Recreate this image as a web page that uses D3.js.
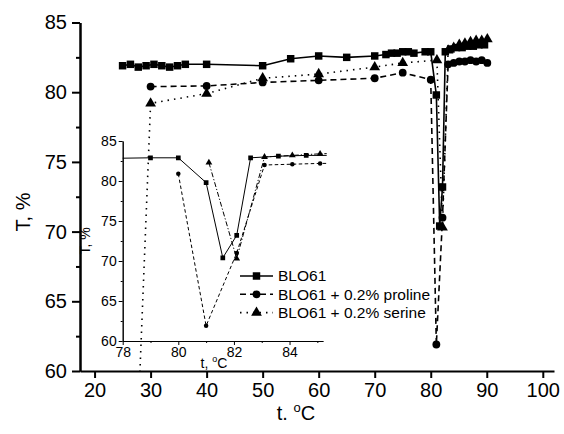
<!DOCTYPE html>
<html><head><meta charset="utf-8">
<script src="https://cdn.jsdelivr.net/npm/d3@7"></script>
<style>body{margin:0;background:#fff}svg{display:block}text{font-family:"Liberation Sans",Arial,sans-serif;fill:#000}</style>
</head><body>
<script>
// ---- data ----
const bloT = [25,26.4,27.8,29.2,30.6,32,33.4,34.8,36.2,40,50,55,60,65,70,72,73,74,75,76,77,79,80,81,81.6,82.1,82.6,83.6,84.6,85.6,86.6,87.6,88.6,89.6];
const bloV = [81.9,82.0,81.8,81.9,82.0,81.9,81.8,81.9,82.0,82.0,81.9,82.4,82.6,82.5,82.6,82.7,82.8,82.8,82.9,82.9,82.8,82.9,82.9,79.8,70.4,73.2,82.9,83.1,83.2,83.2,83.3,83.3,83.4,83.4];
const proT = [30,40,50,60,70,75,80,81,82.1,83.1,84.1,85.1,86.1,87.1,88.1,89.1,90.1];
const proV = [80.4,80.45,80.7,80.85,81.0,81.4,80.9,61.9,71.0,82.0,82.1,82.2,82.2,82.3,82.2,82.3,82.1];
const serT = [28,30,40,50,60,70,75,81.1,82.1,83.1,84.1,85.1,86.1,87.1,88.1,89.1,90.1];
const serV = [59,79.2,79.9,81.0,81.3,81.8,82.1,82.3,70.3,83.0,83.2,83.4,83.5,83.6,83.7,83.7,83.8];
const seriesNames = ["BLO61","BLO61 + 0.2% proline","BLO61 + 0.2% serine"];
const mainXTicks = [20,30,40,50,60,70,80,90,100];
const mainYTicks = [60,65,70,75,80,85];
const mainYMinor = [62.5,67.5,72.5,77.5,82.5];
const insetXTicks = [78,80,82,84];
const insetXMinor = [79,81,83,85];
const insetYTicks = [60,65,70,75,80,85];
const insetYMinor = [62.5,67.5,72.5,77.5,82.5];

const W=564,H=434;
const svg=d3.select("body").append("svg").attr("width",W).attr("height",H);

const series=[
 {name:seriesNames[0],t:bloT,v:bloV,sym:d3.symbolSquare,dash:null,idash:null,sz:56,isz:22},
 {name:seriesNames[1],t:proT,v:proV,sym:d3.symbolCircle,dash:"6,4",idash:"3.5,2.5",sz:48,isz:16},
 {name:seriesNames[2],t:serT,v:serV,sym:d3.symbolTriangle,dash:"1.5,5",idash:"5,2,1.2,2",sz:50,isz:20}
];

// ---- main ----
const x=d3.scaleLinear().domain([17.4,102]).range([80,554]);
const y=d3.scaleLinear().domain([60,85]).range([371,22.5]);

svg.append("clipPath").attr("id","mc").append("rect").attr("x",80).attr("y",18).attr("width",480).attr("height",353);
const mg=svg.append("g").attr("clip-path","url(#mc)");
series.forEach(s=>{
  const pts=s.t.map((t,i)=>[t,s.v[i]]);
  mg.append("path").datum(pts).attr("fill","none").attr("stroke","#000").attr("stroke-width",1.6)
    .attr("stroke-dasharray",s.dash).attr("d",d3.line().x(d=>x(d[0])).y(d=>y(d[1])));
  mg.selectAll(null).data(pts).enter().append("path")
    .attr("d",d3.symbol().type(s.sym).size(s.sz))
    .attr("transform",d=>`translate(${x(d[0])},${y(d[1])})`).attr("fill","#000");
});

function styleAxis(g,fs,sw){
  g.selectAll("text").attr("font-size",fs).attr("font-family","Liberation Sans, Arial, sans-serif").attr("fill","#000");
  g.select(".domain").attr("stroke-width",sw).attr("stroke","#000");
  g.selectAll(".tick line").attr("stroke-width",sw).attr("stroke","#000");
}
const gx=svg.append("g").attr("transform","translate(0,371)")
  .call(d3.axisBottom(x).tickValues(mainXTicks).tickSize(7).tickSizeOuter(0).tickPadding(5));
styleAxis(gx,20,2);
const gy=svg.append("g").attr("transform","translate(80,0)")
  .call(d3.axisLeft(y).tickValues(mainYTicks).tickSize(8).tickSizeOuter(0).tickPadding(5));
styleAxis(gy,20,2);
const gym=svg.append("g").attr("transform","translate(80,0)")
  .call(d3.axisLeft(y).tickValues(mainYMinor).tickSize(4).tickSizeOuter(0).tickFormat(""));
styleAxis(gym,20,2);

svg.append("text").attr("transform","translate(30,212) rotate(-90)").attr("text-anchor","middle")
  .attr("font-size",20).text("T, %");
const xt=svg.append("text").attr("x",296).attr("y",420).attr("text-anchor","middle").attr("font-size",20);
xt.append("tspan").text("t. ");
xt.append("tspan").attr("font-size",13).attr("dy",-8).text("o");
xt.append("tspan").attr("dy",8).text("C");

// ---- inset ----
const ix=d3.scaleLinear().domain([78,85.2]).range([122.7,322.9]);
const iy=d3.scaleLinear().domain([60,85]).range([341,141]);
svg.append("clipPath").attr("id","ic").append("rect").attr("x",122.7).attr("y",136).attr("width",204).attr("height",205);
const ig=svg.append("g").attr("clip-path","url(#ic)");
series.forEach(s=>{
  const pts=s.t.map((t,i)=>[t,s.v[i]]).filter(d=>d[0]>=76&&d[0]<=87);
  ig.append("path").datum(pts).attr("fill","none").attr("stroke","#000").attr("stroke-width",1)
    .attr("stroke-dasharray",s.idash).attr("d",d3.line().x(d=>ix(d[0])).y(d=>iy(d[1])));
  ig.selectAll(null).data(pts).enter().append("path")
    .attr("d",d3.symbol().type(s.sym).size(s.isz))
    .attr("transform",d=>`translate(${ix(d[0])},${iy(d[1])})`).attr("fill","#000");
});
const igx=svg.append("g").attr("transform","translate(0,341)")
  .call(d3.axisBottom(ix).tickValues(insetXTicks).tickSize(4).tickSizeOuter(0).tickPadding(2));
styleAxis(igx,14,1);
const igxm=svg.append("g").attr("transform","translate(0,341)")
  .call(d3.axisBottom(ix).tickValues(insetXMinor).tickSize(2).tickSizeOuter(0).tickFormat(""));
styleAxis(igxm,14,1);
const igy=svg.append("g").attr("transform","translate(122.7,0)")
  .call(d3.axisLeft(iy).tickValues(insetYTicks).tickSize(4).tickSizeOuter(0).tickPadding(2));
styleAxis(igy,14,1);
const igym=svg.append("g").attr("transform","translate(122.7,0)")
  .call(d3.axisLeft(iy).tickValues(insetYMinor).tickSize(2).tickSizeOuter(0).tickFormat(""));
styleAxis(igym,14,1);
svg.append("text").attr("transform","translate(90,241) rotate(-90)").attr("text-anchor","middle")
  .attr("font-size",14).text("T, %");
const ixt=svg.append("text").attr("x",214).attr("y",368).attr("text-anchor","middle").attr("font-size",14);
ixt.append("tspan").text("t, ");
ixt.append("tspan").attr("font-size",9).attr("dy",-6).text("o");
ixt.append("tspan").attr("dy",6).text("C");

// ---- legend ----
const lg=svg.append("g");
series.forEach((s,i)=>{
  const yy=276+i*18.3;
  lg.append("line").attr("x1",240).attr("x2",273).attr("y1",yy).attr("y2",yy)
    .attr("stroke","#000").attr("stroke-width",1.6).attr("stroke-dasharray",s.dash);
  lg.append("path").attr("d",d3.symbol().type(s.sym).size(s.sz)).attr("transform",`translate(256.5,${yy})`).attr("fill","#000");
  lg.append("text").attr("x",278).attr("y",yy).attr("dy","0.35em").attr("font-size",15.5).text(s.name);
});
</script>
</body></html>
